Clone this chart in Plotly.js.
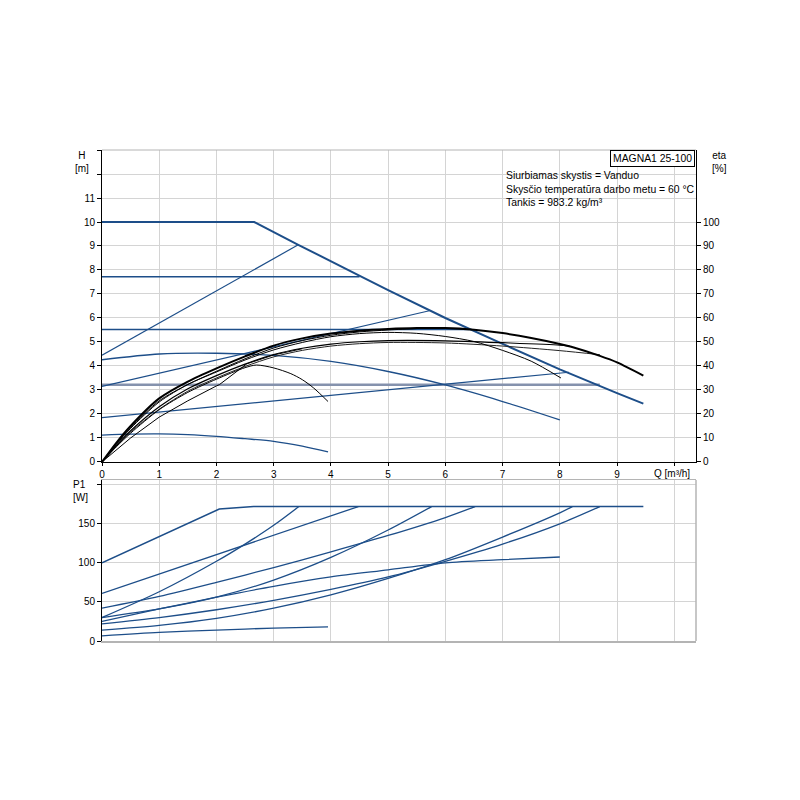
<html>
<head>
<meta charset="utf-8" />
<title>MAGNA1 25-100</title>
<script src="https://cdn.plot.ly/plotly-3.0.1.min.js"></script>
<style>body{margin:0;background:#fff;}</style>
</head>
<body>
<div id="myDiv"></div>
<script>

// ---- H [m] curves (top plot) ----
var maxQ = [0, 2.66, 3.43, 4, 4.47, 5, 6, 7, 8, 9, 9.46];
var maxH = [10, 10, 9.05, 8.35, 7.8, 7.16, 6.0, 4.92, 3.86, 2.87, 2.43];

var cp77Q = [0, 4.5];   var cp77H = [7.72, 7.72];
var cp55Q = [0, 6.42];  var cp55H = [5.52, 5.52];
var cp32Q = [0, 8.7];   var cp32H = [3.22, 3.22];

var pp1Q = [0, 3.43];   var pp1H = [4.45, 9.05];
var pp2Q = [0, 5.72];   var pp2H = [3.15, 6.3];
var pp3Q = [0, 8.16];   var pp3H = [1.85, 3.74];

var cs1Q = [0, 1, 2, 3, 4, 5, 6, 7, 8];
var cs1H = [4.26, 4.5, 4.53, 4.44, 4.19, 3.77, 3.21, 2.52, 1.75];
var cs2Q = [0, 0.5, 1, 1.5, 2, 2.5, 3, 3.5, 3.95];
var cs2H = [1.12, 1.16, 1.17, 1.14, 1.07, 0.97, 0.86, 0.66, 0.42];

// ---- eta [%] curves ----
var effAQ = [0, 0.25, 0.5, 1, 1.5, 2, 2.5, 3, 3.5, 4, 4.5, 5, 5.5, 6, 6.5, 7, 7.5, 8, 8.2, 8.7, 9, 9.46];
var effA  = [0, 8, 15, 26.5, 33.5, 39, 44, 48.5, 51.5, 53.5, 54.7, 55.4, 55.8, 55.8, 55.1, 53.7, 51.7, 49.2, 48, 44.2, 41.5, 36];
var effFQ = [0, 0.25, 0.5, 1, 1.5, 2, 2.5, 3, 3.5, 4, 4.5, 5, 5.5, 5.8];
var effF  = [0, 7.6, 14.3, 25.5, 32.3, 37.8, 43, 47.5, 50.6, 52.8, 54.2, 55, 55.6, 56];
var effDQ = [0, 0.25, 0.5, 1, 1.5, 2, 2.5, 3, 3.5, 4, 4.5, 5, 5.5, 6, 6.5, 7, 7.5, 8.02];
var effD  = [0, 7.3, 14, 25, 32.3, 37.5, 42.5, 46.7, 49.8, 52.2, 53.5, 54, 53.6, 52.3, 50.2, 46.5, 42, 35];
var effCQ = [0, 0.25, 0.5, 1, 1.5, 2, 2.5, 3, 3.5, 4, 4.5, 5, 6, 7, 8, 8.17];
var effC  = [0, 6.8, 13, 23, 30.5, 36, 40.8, 44.8, 47.4, 49.1, 50.1, 50.6, 50.5, 49.7, 48.7, 48.3];
var effBQ = [0, 0.25, 0.5, 1, 1.5, 2, 2.5, 3, 3.5, 4, 4.5, 5, 6, 7, 8, 8.7];
var effB  = [0, 6.5, 12.5, 22, 29.5, 35, 39.8, 43.8, 46.5, 48.3, 49.3, 49.8, 49.6, 48.3, 46.4, 44.7];
var effEQ = [0, 0.25, 0.5, 1, 1.5, 2, 2.5, 2.7, 3, 3.3, 3.5, 3.7, 3.95];
var effE  = [0, 6.3, 12, 21.8, 29, 34.5, 39.3, 40.4, 39.2, 36.8, 34.3, 30.8, 25.2];
var effKQ = [0, 0.5, 1, 1.5, 2, 2.05, 2.53, 3, 3.5];
var effK  = [0, 10, 18.7, 25.5, 31.7, 32.2, 40.9, 44.6, 47.2];

// ---- P1 [W] curves (bottom plot) ----
var p1Q = [0, 2.05, 2.65, 9.46];             var p1 = [100, 169, 172, 172];
var p2Q = [0, 4.48];                         var p2 = [61, 172];
var p3Q = [0, 1, 2, 2.5, 3, 3.44];           var p3 = [30, 63, 102, 124, 148, 172];
var p4Q = [0, 1, 2, 3, 4, 5, 6, 6.52];       var p4 = [42, 57, 75, 94, 114, 135, 158, 172];
var p5Q = [0, 1, 2, 3, 4, 5, 5.76];          var p5 = [30, 41, 56, 78, 107, 142, 172];
var p6Q = [0, 1, 2, 3, 4, 5, 6, 7, 8, 8.7];  var p6 = [22, 30, 40, 52, 66, 82, 102, 124, 150, 172];
var p7Q = [0, 1, 2, 3, 4, 5, 6, 7, 8, 8.22]; var p7 = [14, 20, 29, 42, 59, 80, 104, 133, 164, 172];
var p8Q = [0, 1, 2, 3, 4, 5, 6, 7, 8];       var p8 = [25, 41, 56, 70, 82, 91, 100, 104, 107.5];
var p9Q = [0, 1, 2, 3, 3.95];                var p9 = [6.5, 11, 14, 16.5, 18];

var qTicks = [0, 1, 2, 3, 4, 5, 6, 7, 8, 9, 10];
var qLabels = ['0', '1', '2', '3', '4', '5', '6', '7', '8', '9', ''];
var hTicks = [0, 1, 2, 3, 4, 5, 6, 7, 8, 9, 10, 11, 12, 13];
var hLabels = ['0', '1', '2', '3', '4', '5', '6', '7', '8', '9', '10', '11', '', ''];
var etaTicks = [0, 10, 20, 30, 40, 50, 60, 70, 80, 90, 100];
var pTicks = [0, 50, 100, 150, 200];
var pLabels = ['0', '50', '100', '150', ''];

var BLUE = '#1d4e89';
var GREYBLUE = '#8592ad';

function line(x, y, color, width, ax, shape) {
  return {
    x: x, y: y, type: 'scatter', mode: 'lines',
    xaxis: ax[0], yaxis: ax[1], hoverinfo: 'skip',
    line: { color: color, width: width, shape: shape || 'linear', smoothing: 0.8 }
  };
}

var H = ['x', 'y'], E = ['x', 'y2'], P = ['x2', 'y3'];

var data = [
  line(cp32Q, cp32H, GREYBLUE, 2.6, H),
  line(cs1Q, cs1H, BLUE, 1.3, H, 'spline'),
  line(cs2Q, cs2H, BLUE, 1.3, H, 'spline'),
  line(pp1Q, pp1H, BLUE, 1.2, H),
  line(pp2Q, pp2H, BLUE, 1.2, H),
  line(pp3Q, pp3H, BLUE, 1.2, H),
  line(cp77Q, cp77H, BLUE, 1.6, H),
  line(cp55Q, cp55H, BLUE, 1.6, H),
  line(maxQ, maxH, BLUE, 2, H),

  line(effBQ, effB, '#222', 1, E, 'spline'),
  line(effCQ, effC, '#000', 1.2, E, 'spline'),
  line(effDQ, effD, '#000', 1, E, 'spline'),
  line(effEQ, effE, '#000', 1, E, 'spline'),
  line(effKQ, effK, '#000', 1, E),
  line(effFQ, effF, '#000', 1, E, 'spline'),
  line(effAQ, effA, '#000', 2, E, 'spline'),

  line(p9Q, p9, BLUE, 1.3, P, 'spline'),
  line(p8Q, p8, BLUE, 1.3, P, 'spline'),
  line(p7Q, p7, BLUE, 1.3, P, 'spline'),
  line(p6Q, p6, BLUE, 1.3, P, 'spline'),
  line(p5Q, p5, BLUE, 1.3, P, 'spline'),
  line(p4Q, p4, BLUE, 1.3, P, 'spline'),
  line(p3Q, p3, BLUE, 1.3, P, 'spline'),
  line(p2Q, p2, BLUE, 1.3, P),
  line(p1Q, p1, BLUE, 1.6, P)
];

var grid = '#d4d4d4';
var tickFont = { family: 'Liberation Sans, Arial, sans-serif', size: 10, color: '#000' };

var layout = {
  width: 800, height: 800,
  margin: { l: 102, r: 104, t: 150, b: 159 },
  paper_bgcolor: '#fff', plot_bgcolor: '#fff',
  showlegend: false,
  font: tickFont,
  xaxis: {
    domain: [0, 1], range: [0, 10.38], anchor: 'y',
    tickmode: 'array', tickvals: qTicks, ticktext: qLabels,
    showgrid: true, gridcolor: grid, zeroline: false,
    showline: true, linecolor: '#000', ticks: 'outside', ticklen: 3, tickcolor: '#000'
  },
  yaxis: {
    domain: [0.3646, 1], range: [0, 13], anchor: 'x',
    tickmode: 'array', tickvals: hTicks, ticktext: hLabels,
    showgrid: true, gridcolor: grid, zeroline: false,
    showline: true, linecolor: '#000', ticks: 'outside', ticklen: 4, tickcolor: '#000'
  },
  yaxis2: {
    overlaying: 'y', side: 'right', range: [0, 130], anchor: 'x',
    tickmode: 'array', tickvals: etaTicks,
    showgrid: false, zeroline: false,
    showline: true, linecolor: '#000', ticks: 'outside', ticklen: 4, tickcolor: '#000'
  },
  xaxis2: {
    domain: [0, 1], range: [0, 10.38], anchor: 'y3',
    tickmode: 'array', tickvals: qTicks, showticklabels: false, ticks: '',
    showgrid: true, gridcolor: grid, zeroline: false,
    showline: true, linecolor: '#b4b4b4', linewidth: 1.5, mirror: true
  },
  yaxis3: {
    domain: [0, 0.3279], range: [0, 206], anchor: 'x2',
    tickmode: 'array', tickvals: pTicks, ticktext: pLabels,
    showgrid: true, gridcolor: grid, zeroline: false,
    showline: true, linecolor: '#000', ticks: 'outside', ticklen: 4, tickcolor: '#000'
  },
  shapes: [
    { type: 'line', xref: 'paper', yref: 'paper', x0: 0, x1: 1, y0: 1, y1: 1,
      line: { color: '#b4b4b4', width: 1 } },
    { type: 'line', xref: 'paper', yref: 'paper', x0: 1, x1: 1, y0: 0, y1: 0.3279,
      line: { color: '#b4b4b4', width: 1.5 } }
  ],
  annotations: [
    { xref: 'paper', yref: 'paper', x: -0.0337, y: 0.976, xanchor: 'center', yanchor: 'middle',
      text: 'H<br>[m]', showarrow: false, align: 'center' },
    { xref: 'paper', yref: 'paper', x: 1.04, y: 0.976, xanchor: 'center', yanchor: 'middle',
      text: 'eta<br>[%]', showarrow: false, align: 'center' },
    { xref: 'paper', yref: 'paper', x: -0.037, y: 0.306, xanchor: 'center', yanchor: 'middle',
      text: 'P1<br>[W]', showarrow: false, align: 'left' },
    { xref: 'paper', yref: 'paper', x: 0.993, y: 0.342, xanchor: 'right', yanchor: 'middle',
      text: 'Q [m³/h]', showarrow: false },
    { xref: 'paper', yref: 'paper', x: 0.998, y: 0.999, xanchor: 'right', yanchor: 'top',
      text: 'MAGNA1 25-100', showarrow: false, bgcolor: '#fff',
      bordercolor: '#000', borderwidth: 1, borderpad: 2, font: { size: 10.4 } },
    { xref: 'paper', yref: 'paper', x: 0.6768, y: 0.963, xanchor: 'left', yanchor: 'top',
      text: 'Siurbiamas skystis = Vanduo<br>Skysčio temperatūra darbo metu = 60 °C<br>Tankis = 983.2 kg/m³',
      showarrow: false, align: 'left', font: { size: 10.4 } }
  ]
};

Plotly.newPlot('myDiv', data, layout, { displayModeBar: false, staticPlot: true });

</script>
</body>
</html>
